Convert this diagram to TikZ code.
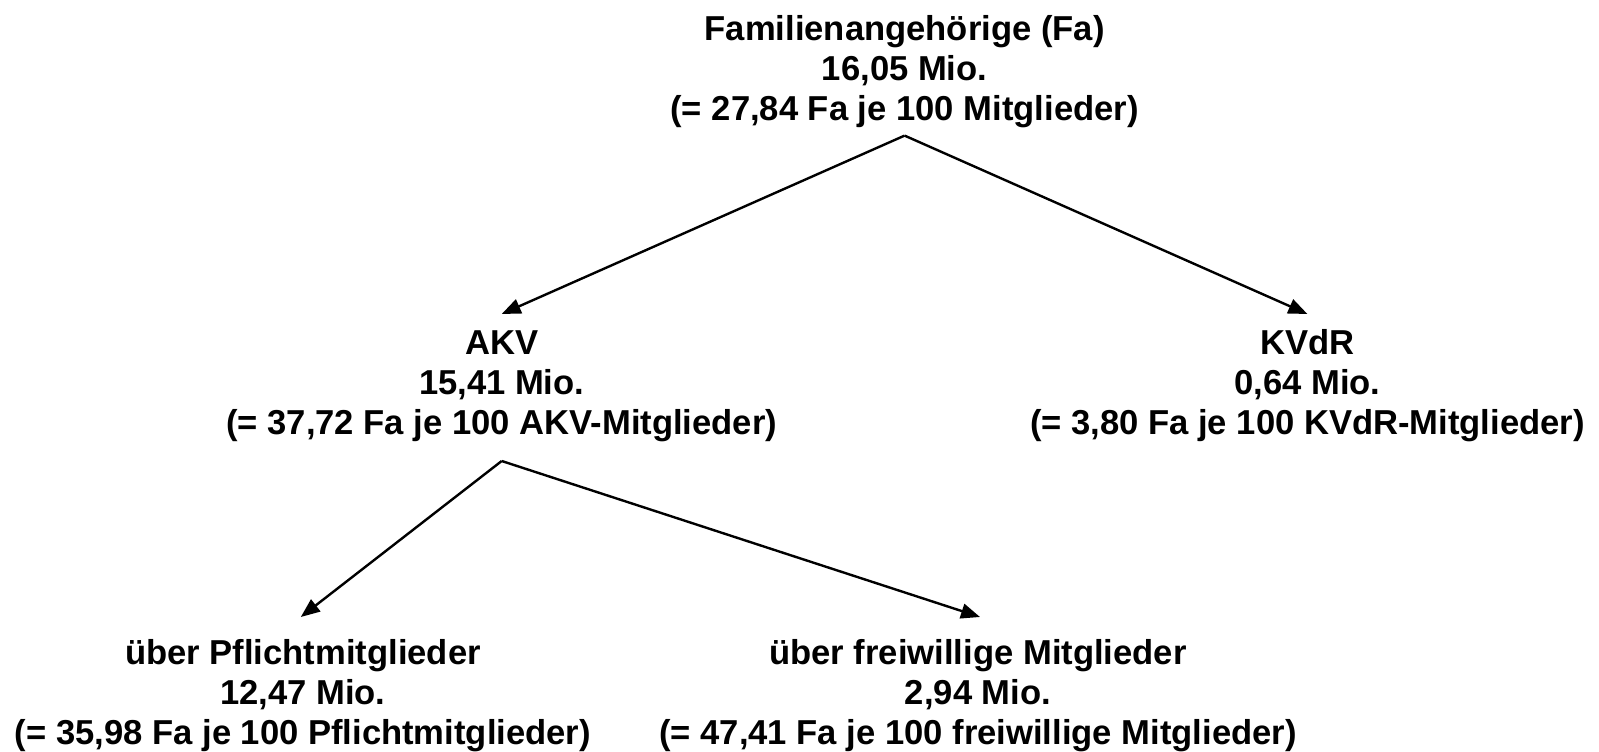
\documentclass[tikz,border=0pt]{standalone}
\usepackage{fontspec}
\setmainfont{Liberation Sans}
\usepackage{tikz}
\usetikzlibrary{arrows.meta}

\tikzset{
  lbl/.style={align=center,inner sep=0pt,outer sep=0pt,
    font=\fontsize{34.6}{40}\selectfont\bfseries},
  arr/.style={line width=2.4pt,-{Triangle[length=19pt,width=15pt]}}
}

\begin{document}
\begin{tikzpicture}[x=1pt,y=-1pt]
  \useasboundingbox (0,0) rectangle (1599,752);
\node[lbl] at (904.6,72) (fa) {Familienangehörige (Fa)\\16,05 Mio.\\(= 27,84 Fa je 100 Mitglieder)};
\node[lbl] at (501.7,386) (akv) {AKV\\15,41 Mio.\\(= 37,72 Fa je 100 AKV-Mitglieder)};
\node[lbl] at (1307.4,386) (kvdr) {KVdR\\0,64 Mio.\\(= 3,80 Fa je 100 KVdR-Mitglieder)};
\node[lbl] at (302.9,696) (pfl) {über Pflichtmitglieder\\12,47 Mio.\\(= 35,98 Fa je 100 Pflichtmitglieder)};
\node[lbl] at (978,696) (frw) {über freiwillige Mitglieder\\2,94 Mio.\\(= 47,41 Fa je 100 freiwillige Mitglieder)};
    % fork points and arrow tips
    \coordinate (fa-fork) at (904.6,135.6);
    \coordinate (akv-fork) at (501.7,461);
    \coordinate (akv-tip) at (501.7,314);
    \coordinate (kvdr-tip) at (1307.4,314);
    \coordinate (pfl-tip) at (300.8,617);
    \coordinate (frw-tip) at (980,617);
    \draw[arr] (fa-fork) -- (akv-tip);
    \draw[arr] (fa-fork) -- (kvdr-tip);
    \draw[arr] (akv-fork) -- (pfl-tip);
    \draw[arr] (akv-fork) -- (frw-tip);
\end{tikzpicture}
\end{document}
